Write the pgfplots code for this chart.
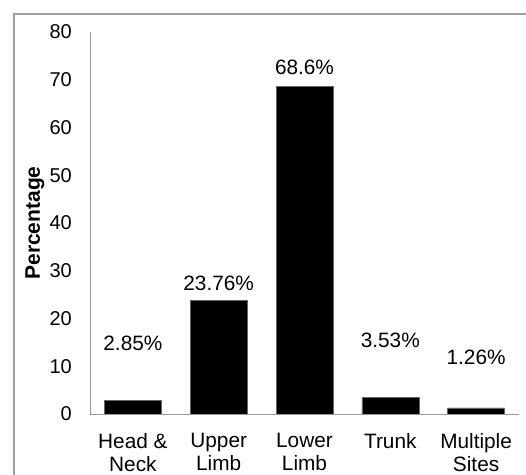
\documentclass[border=0pt]{standalone}
\usepackage{fontspec}
\setmainfont{Liberation Sans}
\usepackage{pgfplots}
\usepackage{pgfplotstable}
\pgfplotsset{compat=1.18}

% x = category index, v = percentage, ly = height of the value label
\pgfplotstableread{
x v ly
0 2.85 14.9
1 23.76 27.4
2 68.6 72.7
3 3.53 15.5
4 1.26 11.9
}\sites

\begin{document}
\begin{tikzpicture}
\useasboundingbox (0,0) rectangle (526bp,475bp);
\draw[gray!75, line width=1.2bp] (14bp,0) -- (14bp,461bp) -- (526bp,461bp);
\begin{axis}[
	at={(90bp,61bp)}, anchor=south west,
	scale only axis,
	width=429bp, height=382bp,
	xmin=-0.5, xmax=4.5,
	ymin=0, ymax=80,
	ytick distance=10,
	xtick=data,
	xticklabels={{Head \&\\Neck},{Upper\\Limb},{Lower\\Limb},{Trunk},{Multiple\\Sites}},
	axis x line*=bottom, axis y line*=left,
	axis line style={gray!80, line width=0.8bp, -},
	major tick length=0pt,
	/pgf/number format/assume math mode=true,
	yticklabel style={font=\fontsize{20bp}{23bp}\selectfont, inner sep=0pt, xshift=-18bp},
	xticklabel style={font=\fontsize{20.8bp}{23bp}\selectfont, align=center, inner sep=0pt, anchor=north, yshift=-19bp},
	ylabel={Percentage},
	ylabel style={font=\fontsize{21bp}{24bp}\selectfont\bfseries, at={([xshift=-50bp]axis description cs:0,0.5)}, anchor=base, inner sep=0pt},
]
\addplot[ybar, bar width=57bp, fill=black, draw=black!60] table[x=x, y=v]{\sites};
\addplot[draw=none, mark=none,
	point meta=explicit,
	nodes near coords={\pgfmathprintnumber[fixed,precision=2]{\pgfplotspointmeta}\%},
	nodes near coords style={font=\fontsize{20.8bp}{24bp}\selectfont, anchor=center, inner sep=0pt, text=black},
] table[x=x, y=ly, meta=v]{\sites};
\end{axis}
\end{tikzpicture}
\end{document}
